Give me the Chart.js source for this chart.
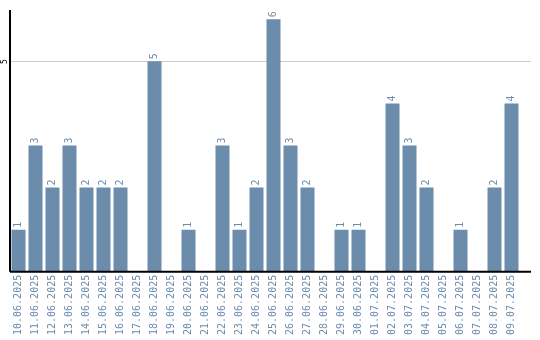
<!DOCTYPE html>
<html>
<head>
<meta charset="utf-8">
<script src="https://cdn.jsdelivr.net/npm/chart.js@4/dist/chart.umd.min.js"></script>
<style>
  html, body { margin: 0; padding: 0; background: #fff; }
  #wrap { width: 540px; height: 340px; }
</style>
</head>
<body>
<div id="wrap"><canvas id="barChart"></canvas></div>
<script>
var dates = ['10.06.2025', '11.06.2025', '12.06.2025', '13.06.2025', '14.06.2025', '15.06.2025',
    '16.06.2025', '17.06.2025', '18.06.2025', '19.06.2025', '20.06.2025', '21.06.2025',
    '22.06.2025', '23.06.2025', '24.06.2025', '25.06.2025', '26.06.2025', '27.06.2025',
    '28.06.2025', '29.06.2025', '30.06.2025', '01.07.2025', '02.07.2025', '03.07.2025',
    '04.07.2025', '05.07.2025', '06.07.2025', '07.07.2025', '08.07.2025', '09.07.2025'];
var counts = [1, 3, 2, 3, 2, 2, 2, 0, 5, 0, 1, 0, 3, 1, 2, 6, 3, 2, 0, 1, 1, 0, 4, 3, 2, 0, 1, 0, 2, 4];
var yTicks = [5];

var barColor = '#6b8cab';
var lineEnd = 531;

// axis lines, the grid line at 5, rotated y tick and value labels
var decorPlugin = {
    id: 'decor',
    beforeDatasetsDraw: function (chart) {
        var ctx = chart.ctx;
        var area = chart.chartArea;
        var y = chart.scales.y;
        ctx.save();
        yTicks.forEach(function (t) {
            var py = Math.round(y.getPixelForValue(t)) + 0.5;
            ctx.strokeStyle = '#cccccc';
            ctx.lineWidth = 1;
            ctx.beginPath();
            ctx.moveTo(area.left, py);
            ctx.lineTo(lineEnd, py);
            ctx.stroke();

            ctx.save();
            ctx.translate(area.left - 3, py);
            ctx.rotate(-Math.PI / 2);
            ctx.fillStyle = '#000';
            ctx.font = '8px "DejaVu Sans Mono"';
            ctx.textAlign = 'center';
            ctx.textBaseline = 'alphabetic';
            ctx.fillText(String(t), 0, 0);
            ctx.restore();
        });
        ctx.restore();
    },
    afterDatasetsDraw: function (chart) {
        var ctx = chart.ctx;
        var area = chart.chartArea;
        var meta = chart.getDatasetMeta(0);
        ctx.save();
        ctx.strokeStyle = '#000';
        ctx.lineWidth = 2;
        ctx.beginPath();
        ctx.moveTo(area.left, area.bottom);
        ctx.lineTo(lineEnd, area.bottom);
        ctx.moveTo(area.left, area.top);
        ctx.lineTo(area.left, area.bottom);
        ctx.stroke();

        ctx.fillStyle = barColor;
        ctx.font = '10px "DejaVu Sans Mono"';
        ctx.textAlign = 'left';
        ctx.textBaseline = 'middle';
        meta.data.forEach(function (bar, i) {
            if (!counts[i]) return;
            ctx.save();
            ctx.translate(bar.x, bar.y - 2);
            ctx.rotate(-Math.PI / 2);
            ctx.fillText(String(counts[i]), 0, 0);
            ctx.restore();
        });
        ctx.restore();
    }
};

new Chart(document.getElementById('barChart').getContext('2d'), {
    type: 'bar',
    data: {
        labels: dates,
        datasets: [{
            data: counts,
            backgroundColor: barColor,
            barPercentage: 14 / 17,
            categoryPercentage: 1.0
        }]
    },
    options: {
        responsive: true,
        maintainAspectRatio: false,
        animation: false,
        layout: { padding: { left: 10, right: 20, top: 10, bottom: 2 } },
        plugins: { legend: { display: false }, tooltip: { enabled: false } },
        scales: {
            x: {
                grid: { display: false, drawTicks: false },
                border: { display: false },
                ticks: {
                    color: barColor,
                    font: { family: 'DejaVu Sans Mono', size: 10 },
                    minRotation: 90,
                    maxRotation: 90,
                    autoSkip: false,
                    padding: 3
                },
                afterFit: function (scale) {
                    scale.paddingLeft = 0;
                    scale.paddingRight = 0;
                }
            },
            y: {
                min: 0,
                max: 6.22,
                grid: { display: false, drawTicks: false },
                border: { display: false },
                ticks: { display: false, stepSize: 5 },
                afterFit: function (scale) {
                    scale.width = 0;
                }
            }
        }
    },
    plugins: [decorPlugin]
});
</script>
</body>
</html>
